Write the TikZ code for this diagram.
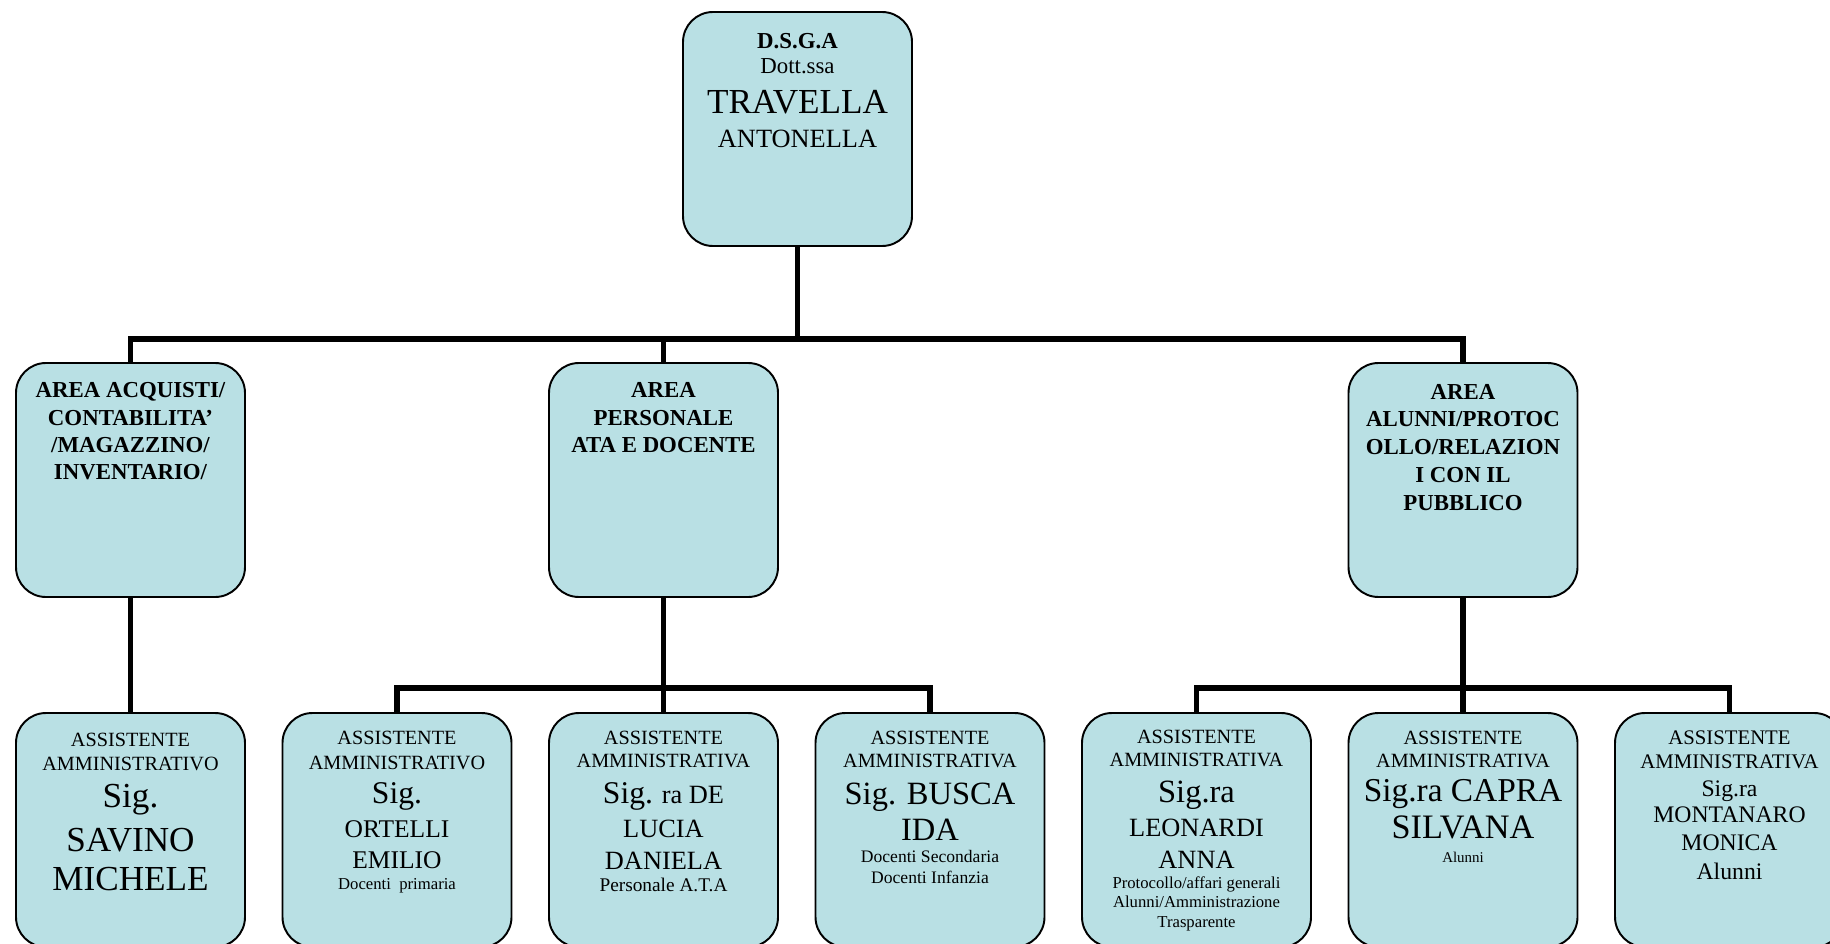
\documentclass[tikz,border=0pt]{standalone}
\usepackage{fontspec}
\setmainfont{Liberation Serif}
\usepackage{xcolor}
\usepackage{tikz}
\definecolor{boxfill}{RGB}{185,224,228}
\newcommand{\txl}[3]{{\fontsize{#1}{#2}\selectfont #3\par}}
\newcommand{\boxtext}[1]{\parbox[c][4.68cm][t]{4.58cm}{\centering\mbox{}\par #1}}
\tikzset{
  box/.style={
    draw,
    line width=1.1pt,
    fill=boxfill,
    rounded corners=0.6cm,
    inner sep=0pt,
    minimum width=4.58cm,
    minimum height=4.68cm},
  link/.style={
    line width=3pt}
  }

\begin{document}
\begin{tikzpicture}
	\useasboundingbox (0,0) rectangle (36.6,-18.88);
	\coordinate (busA) at (0,-6.78);
	\coordinate (busB) at (0,-13.76);
	% direttore
	\node[box] (dsga) at (15.95,-2.58) {\boxtext{
		\txl{13}{20.5}{\bfseries D.S.G.A}
		\txl{13}{14.6}{Dott.ssa}
		\txl{20}{22.8}{TRAVELLA}
		\txl{15}{19.3}{ANTONELLA}}};
	% aree
	\node[box] (acq) at (2.61,-9.60) {\boxtext{
		\txl{13}{19.9}{\bfseries AREA ACQUISTI/}
		\txl{13}{15.4}{\bfseries CONTABILITA'}
		\txl{13}{15.4}{\bfseries /MAGAZZINO/}
		\txl{13}{15.4}{\bfseries INVENTARIO/}}};
	\node[box] (pers) at (13.27,-9.60) {\boxtext{
		\txl{13}{19.9}{\bfseries AREA}
		\txl{13}{15.4}{\bfseries PERSONALE}
		\txl{13}{15.4}{\bfseries ATA E DOCENTE}}};
	\node[box] (alu) at (29.26,-9.60) {\boxtext{
		\txl{13}{20.5}{\bfseries AREA}
		\txl{13}{15.8}{\bfseries ALUNNI/PROTOC}
		\txl{13}{15.8}{\bfseries OLLO/RELAZION}
		\txl{13}{15.8}{\bfseries I CON IL}
		\txl{13}{15.8}{\bfseries PUBBLICO}}};
	% assistenti
	\node[box] (savino) at (2.61,-16.60) {\boxtext{
		\txl{11.5}{19.1}{ASSISTENTE}
		\txl{11.5}{13.9}{AMMINISTRATIVO}
		\txl{20}{20.5}{Sig.}
		\txl{20}{25.3}{SAVINO}
		\txl{20}{22.3}{MICHELE}}};
	\node[box] (ortelli) at (7.94,-16.60) {\boxtext{
		\txl{11.5}{18.2}{ASSISTENTE}
		\txl{11.5}{13.7}{AMMINISTRATIVO}
		\txl{18}{19.6}{Sig.}
		\txl{14.5}{19.3}{ORTELLI}
		\txl{14.5}{17.8}{EMILIO}
		\txl{9.5}{12}{Docenti~ primaria}}};
	\node[box] (delucia) at (13.27,-16.60) {\boxtext{
		\txl{11.5}{18.2}{ASSISTENTE}
		\txl{11.5}{12.8}{AMMINISTRATIVA}
		\txl{15}{20.6}{{\fontsize{18}{18}\selectfont Sig.} ra DE}
		\txl{15}{19.2}{LUCIA}
		\txl{15}{18}{DANIELA}
		\txl{11}{12.8}{Personale A.T.A}}};
	\node[box] (busca) at (18.60,-16.60) {\boxtext{
		\txl{11.5}{18.2}{ASSISTENTE}
		\txl{11.5}{12.8}{AMMINISTRATIVA}
		\txl{18.5}{20.8}{Sig. BUSCA}
		\txl{18.5}{20.5}{IDA}
		\txl{10}{13}{Docenti Secondaria}
		\txl{10}{11.5}{Docenti Infanzia}}};
	\node[box] (leonardi) at (23.93,-16.60) {\boxtext{
		\txl{11.5}{17.6}{ASSISTENTE}
		\txl{11.5}{13.1}{AMMINISTRATIVA}
		\txl{18.5}{20.5}{Sig.ra}
		\txl{15}{18.8}{LEONARDI}
		\txl{15}{18.2}{ANNA}
		\txl{9.5}{11.9}{Protocollo/affari generali}
		\txl{9.5}{10.8}{Alunni/Amministrazione}
		\txl{9.5}{11.4}{Trasparente}}};
	\node[box] (capra) at (29.26,-16.60) {\boxtext{
		\txl{11.5}{18.2}{ASSISTENTE}
		\txl{11.5}{12.8}{AMMINISTRATIVA}
		\txl{19}{19.2}{Sig.ra CAPRA}
		\txl{19.5}{21.1}{SILVANA}
		\txl{8.5}{13.7}{Alunni}}};
	\node[box] (montanaro) at (34.59,-16.60) {\boxtext{
		\txl{11.8}{18.2}{ASSISTENTE}
		\txl{11.8}{13.1}{AMMINISTRATIVA}
		\txl{13.5}{16.2}{Sig.ra}
		\txl{13.5}{14.8}{MONTANARO}
		\txl{13.5}{15.9}{MONICA}
		\txl{13.5}{16.5}{Alunni}}};
	% collegamenti
	\draw[link] (dsga.south) -- (dsga.south |- busA);
	\draw[link] (acq.north) -- (acq.north |- busA) -- (alu.north |- busA) -- (alu.north);
	\draw[link] (pers.north) -- (pers.north |- busA);
	\draw[link] (acq.south) -- (savino.north);
	\draw[link] (pers.south) -- (delucia.north);
	\draw[link] (ortelli.north) -- (ortelli.north |- busB) -- (busca.north |- busB) -- (busca.north);
	\draw[link] (alu.south) -- (capra.north);
	\draw[link] (leonardi.north) -- (leonardi.north |- busB) -- (montanaro.north |- busB) -- (montanaro.north);
\end{tikzpicture}
\end{document}
